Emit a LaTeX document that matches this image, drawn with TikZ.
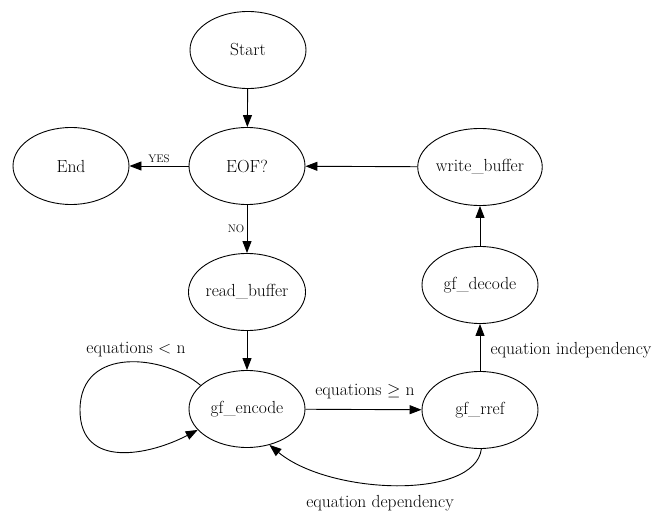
\documentclass[tikz,border=0pt]{standalone}
\usetikzlibrary{arrows.meta,shapes.geometric}
\tikzset{
  state/.style={draw, ellipse, line width=0.9pt, minimum width=116pt,
    minimum height=77pt, inner sep=0pt, font=\fontsize{17.5}{19}\selectfont},
  flow/.style={line width=0.9pt, -{Triangle[length=12pt,width=9pt]}},
  lbl/.style={inner sep=0pt, font=\fontsize{17.5}{19}\selectfont},
  small/.style={inner sep=0pt, font=\fontsize{11}{13}\selectfont}
}
\begin{document}
\begin{tikzpicture}[x=1pt,y=-1pt]
\useasboundingbox (0,0) rectangle (659,516);
% states
\node[state] (start) at (248,50)  {Start};
\node[state] (eof)   at (247,166) {EOF?};
\node[state] (end)   at (71,166)  {End};
\node[state] (read)  at (247,292) {read\_buffer};
\node[state] (enc)   at (247,409) {gf\_encode};
\node[state] (rref)  at (480,410) {gf\_rref};
\node[state] (dec)   at (480,285) {gf\_decode};
\node[state] (write) at (480,167) {write\_buffer};
% transitions
\draw[flow] (start) -- (eof);
\draw[flow] (eof) -- (end);
\draw[flow] (eof) -- (read);
\draw[flow] (read) -- (enc);
\draw[flow] (enc) -- (rref);
\draw[flow] (rref) -- (dec);
\draw[flow] (dec) -- (write);
\draw[flow] (write) -- (eof);
\coordinate (loopleft) at (80,410);
\draw[flow] (enc.153) .. controls (165,355) and (80,345) .. (loopleft)
  .. controls (80,470) and (150,455) .. (enc.203);
\draw[flow] (rref.272) .. controls (475,500) and (330,495) .. (enc.302);
% labels
\node[small] (yes) at (159,159) {YES};
\node[small] (no)  at (236,229) {NO};
\node[lbl] (lt)  at (136,350) {equations $<$ n};
\node[lbl] (ge)  at (365,392) {equations $\geq$ n};
\node[lbl] (ind) at (571,350) {equation independency};
\node[lbl] (dep) at (380,503) {equation dependency};
\end{tikzpicture}
\end{document}
